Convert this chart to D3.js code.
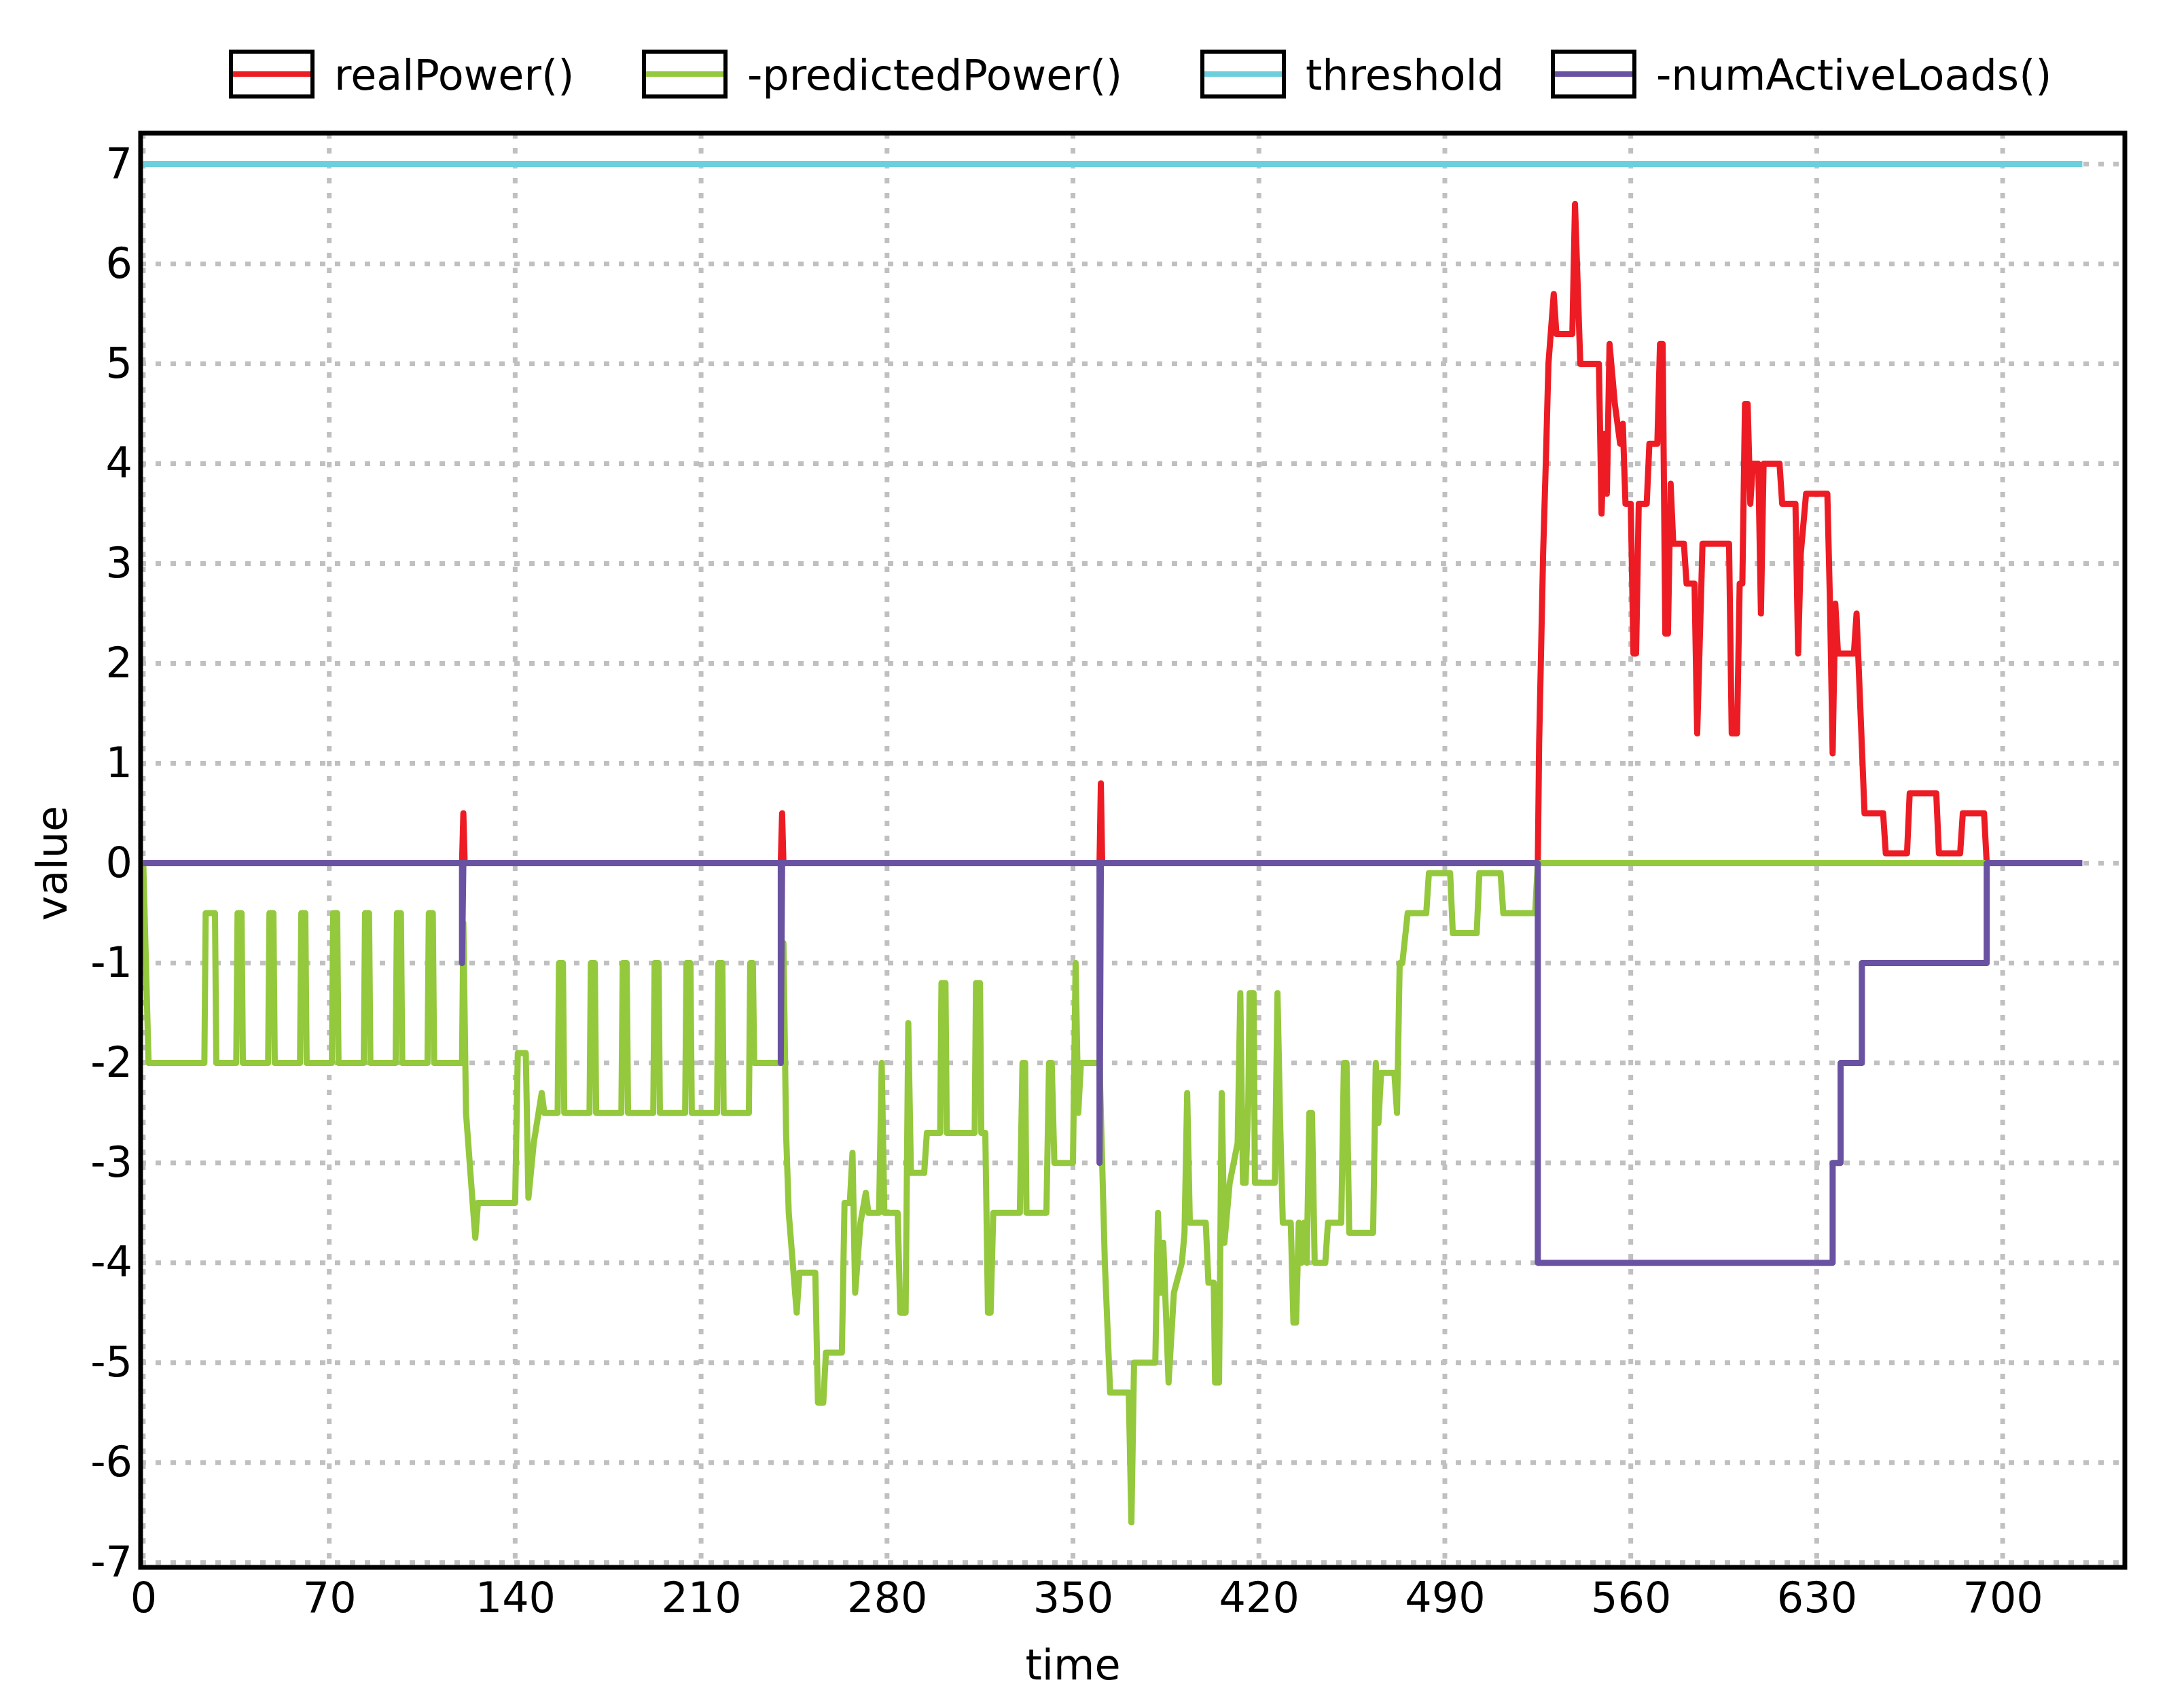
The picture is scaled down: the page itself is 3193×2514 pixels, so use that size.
<!DOCTYPE html>
<html>
<head>
<meta charset="utf-8">
<script src="https://cdn.jsdelivr.net/npm/d3@7"></script>
<style>
  body { margin: 0; background: #fff; }
  text { font-family: "DejaVu Sans", sans-serif; }
</style>
</head>
<body>
<svg id="chart" width="3193" height="2514"></svg>
<script>
// series as [time, value] pairs
var realPower = [[0,0],[120,0],[120.5,0.5],[121,0],[240,0],[240.5,0.5],[241,0],[360,0],[360.5,0.8],[361,0],
  [525,0],[525.5,1.2],[527,3.1],[528,4],[529,5],[531,5.7],[532,5.3],[538,5.3],[539,6.6],[541,5],[548,5],[549,3.5],
  [550,4.3],[551,3.7],[552,5.2],[554,4.6],[556,4.2],[557,4.4],[558,3.6],[560,3.6],[561,2.1],[562,2.1],[563,3.6],[566,3.6],
  [567,4.2],[570,4.2],[571,5.2],[572,5.2],[573,2.3],[574,2.3],[575,3.8],[576,3.2],[580,3.2],[581,2.8],[584,2.8],[585,1.3],
  [587,3.2],[597,3.2],[598,1.3],[600,1.3],[601,2.8],[602,2.8],[603,4.6],[604,4.6],[605,3.6],[606,4],[608,4],[609,2.5],
  [610,4],[616,4],[617,3.6],[622,3.6],[623,2.1],[624,3.1],[626,3.7],[634,3.7],[635,2.6],[636,1.1],[637,2.6],[638,2.1],
  [644,2.1],[645,2.5],[648,0.5],[655,0.5],[656,0.1],[664,0.1],[665,0.7],[675,0.7],[676,0.1],[684,0.1],[685,0.5],[693,0.5],[694,0]];
var predictedPower = [[0,0],[2,-2],[23,-2],[23.5,-0.5],[27,-0.5],[27.5,-2],[35,-2],[35.5,-0.5],[37,-0.5],[37.5,-2],
  [47,-2],[47.5,-0.5],[49,-0.5],[49.5,-2],[59,-2],[59.5,-0.5],[61,-0.5],[61.5,-2],[71,-2],[71.5,-0.5],[73,-0.5],[73.5,-2],
  [83,-2],[83.5,-0.5],[85,-0.5],[85.5,-2],[95,-2],[95.5,-0.5],[97,-0.5],[97.5,-2],[107,-2],[107.5,-0.5],[109,-0.5],[109.5,-2],
  [120,-2],[120.5,-0.6],[121.5,-2.5],[124,-3.4],[125,-3.75],[126,-3.4],[140,-3.4],[141,-1.9],[144,-1.9],[145,-3.35],
  [147,-2.8],[150,-2.3],[151,-2.5],[156,-2.5],[156.5,-1],[158,-1],[158.5,-2.5],[168,-2.5],[168.5,-1],[170,-1],[170.5,-2.5],
  [180,-2.5],[180.5,-1],[182,-1],[182.5,-2.5],[192,-2.5],[192.5,-1],[194,-1],[194.5,-2.5],[204,-2.5],[204.5,-1],[206,-1],
  [206.5,-2.5],[216,-2.5],[216.5,-1],[218,-1],[218.5,-2.5],[228,-2.5],[228.5,-1],[229.5,-1],[230,-2],[240,-2],[241,-0.8],
  [242,-2.7],[243,-3.5],[246,-4.5],[247,-4.1],[253,-4.1],[254,-5.4],[256,-5.4],[257,-4.9],[263,-4.9],[264,-3.4],[266,-3.4],
  [267,-2.9],[268,-4.3],[270,-3.6],[272,-3.3],[273,-3.5],[277,-3.5],[278,-2],[279,-3.5],[284,-3.5],[285,-4.5],[287,-4.5],
  [288,-1.6],[289,-3.1],[294,-3.1],[295,-2.7],[300,-2.7],[300.5,-1.2],[302,-1.2],[302.5,-2.7],[313,-2.7],[313.5,-1.2],
  [315,-1.2],[315.5,-2.7],[317,-2.7],[318,-4.5],[319,-4.5],[320,-3.5],[330,-3.5],[331,-2],[332,-2],[332.5,-3.5],[340,-3.5],
  [341,-2],[342,-2],[343,-3],[350,-3],[351,-1],[352,-2.5],[353,-2],[360,-2],[361,-3],[362,-4],[364,-5.3],[371,-5.3],
  [372,-6.6],[373,-5],[381,-5],[382,-3.5],[383,-4.3],[384,-3.8],[386,-5.2],[388,-4.3],[391,-4],[392,-3.7],[393,-2.3],
  [394,-3.6],[400,-3.6],[401,-4.2],[403,-4.2],[403.5,-5.2],[405,-5.2],[406,-2.3],[407,-3.8],[409,-3.2],[412,-2.8],[413,-1.3],
  [414,-3.2],[415,-3.2],[416,-2.4],[416.5,-1.3],[418,-1.3],[418.5,-3.2],[426,-3.2],[427,-1.3],[428,-2.6],[429,-3.6],[432,-3.6],
  [433,-4.6],[434,-4.6],[435,-3.6],[436,-4],[437,-3.6],[438,-4],[439,-2.5],[440,-2.5],[441,-4],[445,-4],[446,-3.6],[451,-3.6],
  [452,-2],[453,-2],[454,-3.7],[463,-3.7],[464,-2],[465,-2.6],[466,-2.1],[471,-2.1],[472,-2.5],[473,-1],[474,-1],[476,-0.5],
  [483,-0.5],[484,-0.1],[492,-0.1],[493,-0.7],[502,-0.7],[503,-0.1],[511,-0.1],[512,-0.5],[524,-0.5],[525,0],[694,0]];
var threshold = [[0,7],[730,7]];
var numActiveLoads = [[0,0],[120,0],[120,-1],[120.5,0],[240,0],[240,-2],[240.5,0],[360,0],[360,-3],[360.5,0],
  [525,0],[525,-4],[636,-4],[636,-3],[639,-3],[639,-2],[647,-2],[647,-1],[694,-1],[694,0],[730,0]];

var seriesNames = ["realPower()", "-predictedPower()", "threshold", "-numActiveLoads()"];
var seriesColors = ["#ed1c24", "#94c83d", "#6dcfdc", "#6952a1"];
var seriesData = [realPower, predictedPower, threshold, numActiveLoads];
var xTicks = [0, 70, 140, 210, 280, 350, 420, 490, 560, 630, 700];
var yTicks = [-7, -6, -5, -4, -3, -2, -1, 0, 1, 2, 3, 4, 5, 6, 7];

var margin = {top: 196, right: 65, bottom: 207, left: 207};
var width = 3193 - margin.left - margin.right;
var height = 2514 - margin.top - margin.bottom;

var svg = d3.select("#chart");
var g = svg.append("g").attr("transform", "translate(" + margin.left + "," + margin.top + ")");

var x = d3.scaleLinear().domain([-1, 746]).range([0, width]);
var y = d3.scaleLinear().domain([-7.05, 7.31]).range([height, 0]);

// grid
g.selectAll(".vgrid").data(xTicks).enter().append("line")
  .attr("x1", d => x(d)).attr("x2", d => x(d)).attr("y1", 0).attr("y2", height)
  .attr("stroke", "#c0c0c0").attr("stroke-width", 7).attr("stroke-dasharray", "8 14");
g.selectAll(".hgrid").data(yTicks).enter().append("line")
  .attr("x1", 0).attr("x2", width).attr("y1", d => y(d)).attr("y2", d => y(d))
  .attr("stroke", "#c0c0c0").attr("stroke-width", 7).attr("stroke-dasharray", "8 14");

// lines
var line = d3.line().x(d => x(d[0])).y(d => y(d[1]));
seriesData.forEach(function(s, i) {
  g.append("path").datum(s).attr("d", line)
    .attr("fill", "none").attr("stroke", seriesColors[i])
    .attr("stroke-width", 9).attr("stroke-linejoin", "round");
});

// frame
g.append("rect").attr("width", width).attr("height", height)
  .attr("fill", "none").attr("stroke", "#000").attr("stroke-width", 7);

// axes
var fmt = d => String(d);
var xAxis = g.append("g").attr("transform", "translate(0," + height + ")")
  .call(d3.axisBottom(x).tickValues(xTicks).tickFormat(fmt).tickSize(0).tickPadding(22));
var yAxis = g.append("g")
  .call(d3.axisLeft(y).tickValues(yTicks).tickFormat(fmt).tickSize(0).tickPadding(12));
[xAxis, yAxis].forEach(function(a) {
  a.select(".domain").remove();
  a.selectAll("text").attr("font-size", 62).attr("fill", "#000").attr("font-family", "DejaVu Sans");
});

svg.append("text").attr("x", margin.left + x(350)).attr("y", 2472)
  .attr("text-anchor", "middle").attr("font-size", 62).text("time");
svg.append("text").attr("transform", "translate(98," + (margin.top + y(0)) + ") rotate(-90)")
  .attr("text-anchor", "middle").attr("font-size", 62).text("value");

// legend
var legendX = [340, 948, 1770, 2286];
seriesNames.forEach(function(name, i) {
  var lg = svg.append("g").attr("transform", "translate(" + legendX[i] + ",76)");
  lg.append("rect").attr("width", 120).attr("height", 66)
    .attr("fill", "#fff").attr("stroke", "#000").attr("stroke-width", 6);
  lg.append("line").attr("x1", 3).attr("x2", 117).attr("y1", 33).attr("y2", 33)
    .attr("stroke", seriesColors[i]).attr("stroke-width", 8);
  lg.append("text").attr("x", 152).attr("y", 56).attr("font-size", 62).text(name);
});
</script>
</body>
</html>
